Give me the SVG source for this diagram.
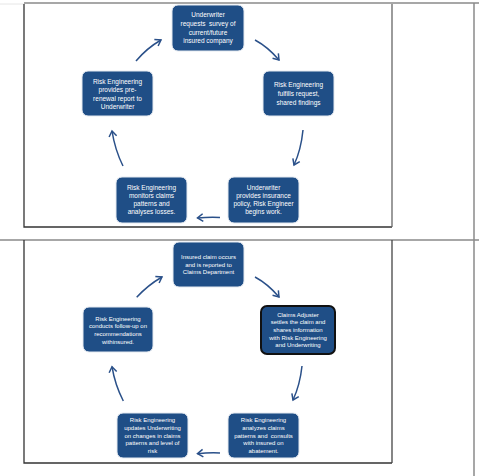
<svg xmlns="http://www.w3.org/2000/svg" width="479" height="476" viewBox="0 0 479 476">
<defs>
<marker id="ah" markerWidth="10" markerHeight="10" refX="7" refY="5" orient="auto" markerUnits="userSpaceOnUse">
<path d="M1.5,1.2 L7,5 L1.5,8.8" fill="none" stroke="#2a5089" stroke-width="1.5" stroke-linejoin="miter"/>
</marker>
</defs>
<style>
.n{fill:#1f4e86;stroke:#e4e9f0;stroke-width:1}
.hl{fill:#1f4e86;stroke:#111;stroke-width:2}
.t{fill:#fff;font-family:"Liberation Sans",Arial,sans-serif;text-anchor:middle}
.a{font-size:6.5px}
.b{font-size:6px}
.c{fill:none;stroke:#2a5089;stroke-width:1.5;marker-end:url(#ah)}
.g{stroke:#8a8a8a;stroke-width:1.5;fill:none}
.d{stroke:#333;stroke-width:1.3;fill:none}
</style>
<rect width="479" height="476" fill="#fff"/>
<g id="frame">
<line x1="0" y1="4" x2="24" y2="4" stroke="#e6e6e6" stroke-width="1"/>
<line class="g" x1="24" y1="3" x2="479" y2="3"/>
<line class="g" x1="474" y1="3" x2="474" y2="476"/>
<line class="g" x1="0" y1="240" x2="479" y2="240"/>
<path class="d" d="M24,4 V227 H392"/>
<line x1="392" y1="4" x2="392" y2="227" stroke="#666" stroke-width="1.3"/>
<path class="d" d="M24,240 V463 H392"/>
<line x1="392" y1="240" x2="392" y2="463" stroke="#444" stroke-width="1.3"/>
</g>
<g id="connectors">
<path class="c" d="M255,40 Q268,47 279,60"/>
<path class="c" d="M303,130 Q301,150 294,165"/>
<path class="c" d="M220,217.5 Q209,217 197.5,218"/>
<path class="c" d="M123,166 Q115,150 112,131"/>
<path class="c" d="M136,61 Q147,48 161,40"/>
<path class="c" d="M255,277 Q268,284 279,297"/>
<path class="c" d="M302,366 Q300,385 293,400"/>
<path class="c" d="M220,453 Q209,452.5 197.5,453.7"/>
<path class="c" d="M123.3,401 Q115,385 112,366.7"/>
<path class="c" d="M136.7,297.3 Q148,285 162,277"/>
</g>
<g id="top1">
<rect class="n" x="172" y="5" width="72" height="46" rx="6"/>
<text class="t a" x="208" y="17.3">Underwriter</text>
<text class="t a" x="208" y="26" xml:space="preserve">requests  survey of</text>
<text class="t a" x="208" y="34.6">current/future</text>
<text class="t a" x="208" y="43">insured company</text>
</g>
<g id="right1">
<rect class="n" x="263" y="71" width="71" height="45" rx="6"/>
<text class="t a" x="298.5" y="87.3">Risk Engineering</text>
<text class="t a" x="298.5" y="96.2">fulfills request,</text>
<text class="t a" x="298.5" y="104.5">shared findings</text>
</g>
<g id="left1">
<rect class="n" x="82" y="71" width="71" height="45" rx="6"/>
<text class="t a" x="117.5" y="84">Risk Engineering</text>
<text class="t a" x="117.5" y="92">provides pre-</text>
<text class="t a" x="117.5" y="101">renewal report to</text>
<text class="t a" x="117.5" y="109">Underwriter</text>
</g>
<g id="bl1">
<rect class="n" x="116" y="177" width="71" height="46" rx="6"/>
<text class="t a" x="151.5" y="190.3">Risk Engineering</text>
<text class="t a" x="151.5" y="198.3">monitors claims</text>
<text class="t a" x="151.5" y="206.3">patterns and</text>
<text class="t a" x="151.5" y="214.3">analyses losses.</text>
</g>
<g id="br1">
<rect class="n" x="228" y="177" width="71" height="46" rx="6"/>
<text class="t a" x="263.5" y="190.3">Underwriter</text>
<text class="t a" x="263.5" y="198.3">provides insurance</text>
<text class="t a" x="263.5" y="206.3">policy, Risk Engineer</text>
<text class="t a" x="263.5" y="214.3">begins work.</text>
</g>
<g id="top2">
<rect class="n" x="173" y="242" width="71" height="45" rx="6"/>
<text class="t b" x="208.5" y="258.8">Insured claim occurs</text>
<text class="t b" x="208.5" y="266.5">and is reported to</text>
<text class="t b" x="208.5" y="274.2">Claims Department</text>
</g>
<g id="right2">
<rect class="hl" x="261" y="306" width="74" height="48" rx="6"/>
<text class="t b" x="298" y="316.5">Claims Adjuster</text>
<text class="t b" x="298" y="324.2">settles the claim and</text>
<text class="t b" x="298" y="331.9">shares information</text>
<text class="t b" x="298" y="339.6">with Risk Engineering</text>
<text class="t b" x="298" y="347.3">and Underwriting</text>
</g>
<g id="left2">
<rect class="n" x="83" y="307" width="70" height="45" rx="6"/>
<text class="t b" x="118" y="320.5">Risk Engineering</text>
<text class="t b" x="118" y="328.2">conducts follow-up on</text>
<text class="t b" x="118" y="335.9">recommendations</text>
<text class="t b" x="118" y="343.6">withinsured.</text>
</g>
<g id="bl2">
<rect class="n" x="117" y="413" width="71" height="45" rx="6"/>
<text class="t b" x="152.5" y="422.2">Risk Engineering</text>
<text class="t b" x="152.5" y="429.9">updates Underwriting</text>
<text class="t b" x="152.5" y="437.6">on changes in claims</text>
<text class="t b" x="152.5" y="445.3">patterns and level of</text>
<text class="t b" x="152.5" y="453">risk</text>
</g>
<g id="br2">
<rect class="n" x="228" y="413" width="71" height="45" rx="6"/>
<text class="t b" x="263.5" y="422.2">Risk Engineering</text>
<text class="t b" x="263.5" y="429.9">analyzes claims</text>
<text class="t b" x="263.5" y="437.6" xml:space="preserve">patterns and  consults</text>
<text class="t b" x="263.5" y="445.3">with insured  on</text>
<text class="t b" x="263.5" y="453">abatement.</text>
</g>
</svg>
